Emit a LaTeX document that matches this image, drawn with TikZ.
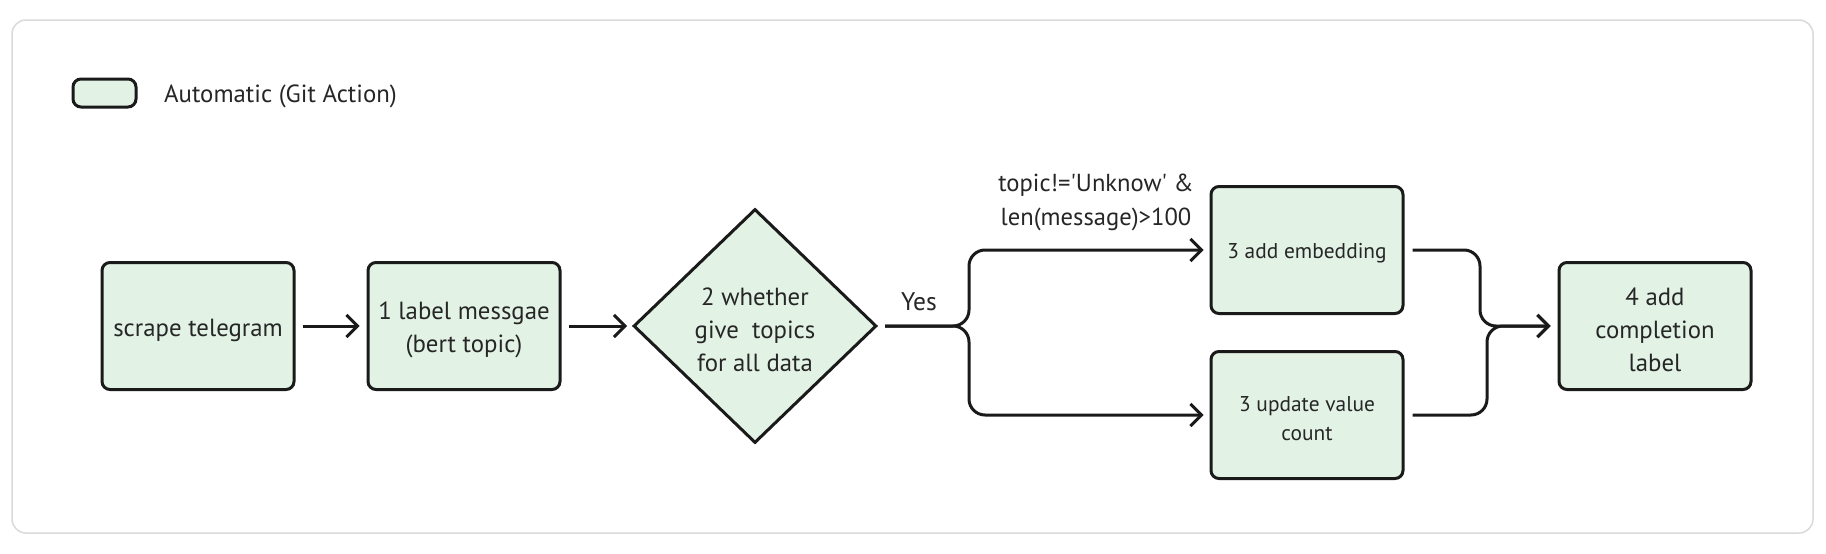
\documentclass[tikz,border=0pt]{standalone}
\usepackage{fontspec}
\setmainfont{PT Sans}
\usetikzlibrary{arrows.meta,shapes.geometric}
\definecolor{boxfill}{HTML}{E2F2E4}
\definecolor{framegray}{HTML}{DADADA}
\definecolor{ink}{HTML}{1A1A1A}
\definecolor{txt}{HTML}{262626}
\newcommand{\lift}{\rule{0pt}{1.05em}}
\begin{document}
\begin{tikzpicture}[x=1pt,y=-1pt,
  box/.style={draw=ink, line width=3pt, fill=boxfill, rounded corners=8pt,
    minimum width=192pt, minimum height=127pt, align=center, inner sep=0pt,
    text=txt, font=\fontsize{24.8}{33}\selectfont},
  smallbox/.style={box, font=\fontsize{21.4}{29}\selectfont},
  decision/.style={draw=ink, line width=3pt, fill=boxfill, shape=diamond,
    minimum width=243pt, minimum height=234pt, align=center, inner sep=0pt,
    text=txt, font=\fontsize{24.8}{33}\selectfont},
  conn/.style={draw=ink, line width=3pt, rounded corners=16pt,
    -{Straight Barb[length=11pt,width=22pt]}},
  lbl/.style={text=txt, align=center, inner sep=0pt, font=\fontsize{24.6}{34}\selectfont}]
\useasboundingbox (0,0) rectangle (1826,554);
\fill[white] (0,0) rectangle (1826,554);
\draw[framegray, line width=1.5pt, rounded corners=14pt] (12,20) rectangle (1813,533);
% legend
\node[draw=ink, line width=3pt, fill=boxfill, rounded corners=8pt,
  minimum width=63pt, minimum height=28pt, inner sep=0pt] (leg) at (104.5,93) {};
\node[lbl, anchor=west, font=\fontsize{24.8}{30}\selectfont] (legtxt) at (164,96.5) {Automatic (Git Action)};
% nodes
\node[box] (scrape) at (198,326) {\lift scrape telegram};
\node[box] (lab) at (464,326) {\lift 1 label messgae\\(bert topic)};
\node[decision] (dia) at (755,326) {\lift 2 whether\\give~~topics\\for all data};
\node[smallbox] (emb) at (1307,250) {\lift 3 add embedding};
\node[smallbox] (upd) at (1307,415) {\lift 3 update value\\count};
\node[box] (comp) at (1655,326) {\lift 4 add\\completion\\label};
% labels
\node[lbl, font=\fontsize{25.5}{30}\selectfont] (yes) at (919,302) {Yes};
\node[lbl] (cond) at (1096,202) {topic!=\textquotesingle Unknow\textquotesingle\ \&\\len(message)>100};
% connectors
\coordinate (split) at (969,326);
\coordinate (mergeA) at (1480,326);
\coordinate (mergeB) at (1487,326);
\draw[conn] ([xshift=7pt]scrape.east) -- ([xshift=-7pt]lab.west);
\draw[conn] ([xshift=7pt]lab.east) -- ([xshift=-5pt]dia.west);
\draw[conn] ([xshift=7pt]dia.east) -- (split) |- ([xshift=-6pt]emb.west);
\draw[conn] ([xshift=7pt]dia.east) -- (split) |- ([xshift=-6pt]upd.west);
\draw[conn] ([xshift=8pt]emb.east) -| (mergeA) -- ([xshift=-7pt]comp.west);
\draw[conn] ([xshift=8pt]upd.east) -| (mergeB) -- ([xshift=-7pt]comp.west);
\end{tikzpicture}
\end{document}
